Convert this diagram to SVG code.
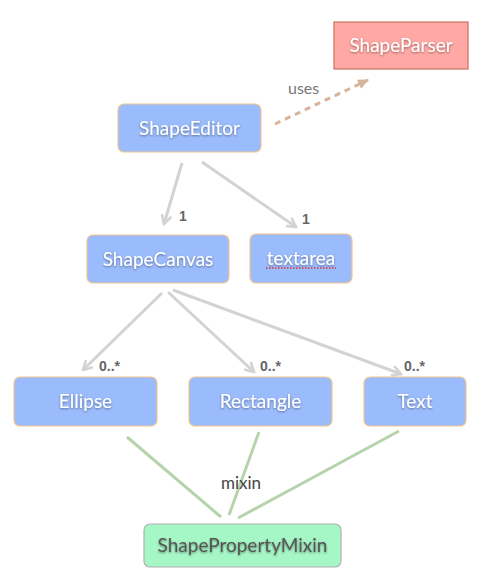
<svg xmlns="http://www.w3.org/2000/svg" width="487" height="580" viewBox="0 0 487 580">
<style>
.node{fill:#9bbcfc;stroke:#f3c48f;stroke-width:1.2}
.nt{font-family:Lato,"Open Sans",sans-serif;font-size:19px;fill:#ffffff;text-anchor:middle;filter:url(#sh)}
.edge{stroke:#d3d3d3;stroke-width:3;fill:none}
.mix{stroke:#b6d4ac;stroke-width:3;fill:none}
.ml{font-family:"Liberation Sans",Arial,sans-serif;font-weight:bold;font-size:14px;fill:#666}
</style>
<defs>
<filter id="sh" x="-20%" y="-40%" width="140%" height="180%">
<feDropShadow dx="0" dy="1" stdDeviation="1.2" flood-color="#000" flood-opacity="0.45"/>
</filter>
<marker id="ag" viewBox="0 0 12 12" refX="10" refY="6" markerWidth="12" markerHeight="12" markerUnits="userSpaceOnUse" orient="auto">
<path d="M1,1 L10,6 L1,11" fill="none" stroke="#d3d3d3" stroke-width="2.6"/>
</marker>
<marker id="ab" viewBox="0 0 12 12" refX="10" refY="6" markerWidth="12" markerHeight="12" markerUnits="userSpaceOnUse" orient="auto">
<path d="M0,1 L11,6 L0,11 Z" fill="#d8b49a"/>
</marker>
</defs>
<g id="connectors">
<line class="edge" x1="182" y1="163" x2="164" y2="224" marker-end="url(#ag)"/>
<line class="edge" x1="202" y1="162" x2="296" y2="227" marker-end="url(#ag)"/>
<line class="edge" x1="162" y1="293" x2="83" y2="370" marker-end="url(#ag)"/>
<line class="edge" x1="168" y1="292" x2="254" y2="372" marker-end="url(#ag)"/>
<line class="edge" x1="173" y1="290" x2="401" y2="374" marker-end="url(#ag)"/>
<line x1="275" y1="124" x2="368" y2="80" stroke="#d8b49a" stroke-width="3" stroke-dasharray="6,5" marker-end="url(#ab)"/>
<line class="mix" x1="127" y1="437" x2="221" y2="517"/>
<line class="mix" x1="259" y1="432" x2="229" y2="515"/>
<line class="mix" x1="399" y1="431" x2="238" y2="518"/>
<text x="288" y="94" font-family="Lato,'Open Sans',sans-serif" font-size="16" fill="#777">uses</text>
<text class="ml" x="179" y="221">1</text>
<text class="ml" x="302" y="224">1</text>
<text class="ml" x="99" y="371">0..*</text>
<text class="ml" x="260" y="371">0..*</text>
<text class="ml" x="404" y="371">0..*</text>
<text x="221" y="489" font-family="Lato,'Open Sans',sans-serif" font-size="17" fill="#444">mixin</text>
</g>
<g id="ShapeParser">
<rect x="334" y="22" width="134" height="47" fill="#ffa8a4" stroke="#c8705f" stroke-width="1.2"/>
<text class="nt" x="401" y="52">ShapeParser</text>
</g>
<g id="ShapeEditor">
<rect class="node" x="118" y="104" width="143" height="48" rx="6"/>
<text class="nt" x="189.5" y="135">ShapeEditor</text>
</g>
<g id="ShapeCanvas">
<rect class="node" x="87" y="235" width="142" height="48" rx="6"/>
<text class="nt" x="158" y="266">ShapeCanvas</text>
</g>
<g id="textarea">
<rect class="node" x="250" y="234" width="102" height="49" rx="6"/>
<text class="nt" x="301" y="265">textarea</text>
<line x1="266" y1="268" x2="336" y2="268" stroke="#e03030" stroke-width="1.3" stroke-dasharray="1.5,1.5"/>
</g>
<g id="Ellipse">
<rect class="node" x="14" y="377" width="143" height="49" rx="6"/>
<text class="nt" x="85.5" y="408">Ellipse</text>
</g>
<g id="Rectangle">
<rect class="node" x="189" y="377" width="143" height="49" rx="6"/>
<text class="nt" x="260.5" y="408">Rectangle</text>
</g>
<g id="Text">
<rect class="node" x="364" y="377" width="102" height="49" rx="6"/>
<text class="nt" x="415" y="408">Text</text>
</g>
<g id="ShapePropertyMixin">
<rect x="144" y="524" width="197" height="43" rx="6" fill="#a6f7c6" stroke="#b0b0b0" stroke-width="1.2"/>
<text class="nt" x="242.5" y="552" style="fill:#555">ShapePropertyMixin</text>
</g>
</svg>
